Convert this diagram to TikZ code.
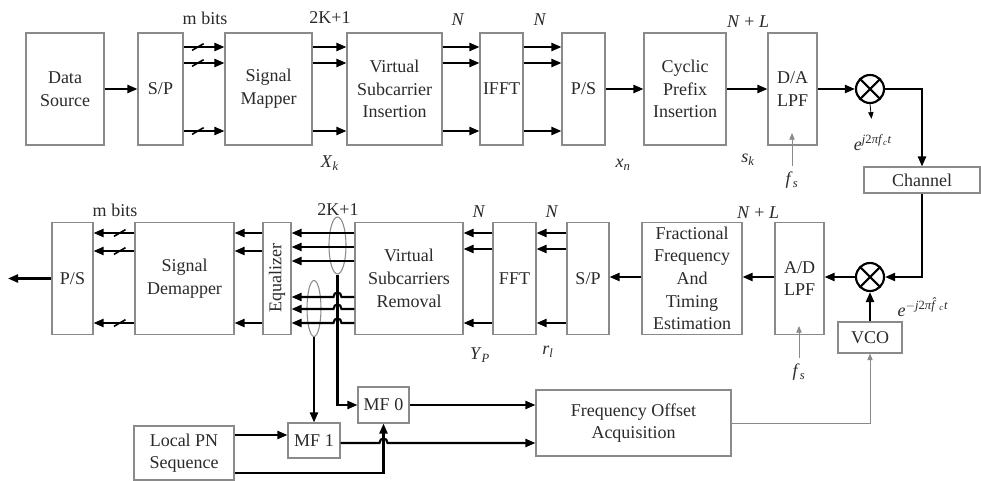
\documentclass[tikz,border=0pt]{standalone}
\usepackage{fontspec}
\setmainfont{Liberation Serif}
\usetikzlibrary{positioning, arrows.meta, calc, shapes.geometric}
\definecolor{boxline}{HTML}{8A8A8A}
\definecolor{txtink}{HTML}{2A2A2A}

\begin{document}
\begin{tikzpicture}[
  x=0.75pt, y=-0.75pt,
  line join=miter,
  >={Triangle[length=7.5pt,width=6pt]},
  box/.style = {draw=boxline, line width=0.8pt, fill=white, inner sep=2pt,
                minimum height=84pt, anchor=center, align=center, text=txtink,
                font=\fontsize{13.5}{17}\selectfont},
  bus/.style = {line width=1.6pt, black},
  thinarr/.style = {line width=0.6pt, draw=boxline, -{Triangle[length=5pt,width=4pt]}},
  slash/.style = {draw, line width=1.2pt, inner sep=0pt, minimum width=0pt,
                  minimum height=10pt, rotate=-60},
  grp/.style = {ellipse, draw=boxline, line width=0.8pt, inner sep=0pt},
  mixer/.style = {circle, draw, line width=1.6pt, minimum size=21pt, inner sep=0pt,
                  path picture={\draw[line width=1.6pt]
                    (path picture bounding box.north west) -- (path picture bounding box.south east)
                    (path picture bounding box.north east) -- (path picture bounding box.south west);}},
  lbl/.style = {font=\fontsize{13.5}{15}\selectfont, text=txtink, inner sep=1pt}
]
\useasboundingbox (0,0) rectangle (981,481);

% rows
\coordinate (t1) at (0,47);  \coordinate (t2) at (0,63);  \coordinate (t3) at (0,131);
\coordinate (r1) at (0,233); \coordinate (r2) at (0,249); \coordinate (r3) at (0,323);
\coordinate (q1) at (0,233); \coordinate (q2) at (0,247); \coordinate (q3) at (0,261);
\coordinate (q4) at (0,297); \coordinate (q5) at (0,309); \coordinate (q6) at (0,323);
\coordinate (d1) at (0,233); \coordinate (d2) at (0,251); \coordinate (d3) at (0,323);
\coordinate (rm) at (0,277);
\coordinate (pa) at (0,435); \coordinate (pb) at (0,473); \coordinate (pc) at (0,443);

% transmitter
\node[box, minimum width=58.5pt]  (src)  at (65,89)    {Data\\Source};
\node[box, minimum width=33.75pt] (sp)   at (160.5,89) {S/P};
\node[box, minimum width=65.25pt] (map)  at (268.5,89) {Signal\\Mapper};
\node[box, minimum width=71.25pt] (vsi)  at (394.5,89) {Virtual\\Subcarrier\\Insertion};
\node[box, minimum width=32.25pt] (ifft) at (501.5,89) {IFFT};
\node[box, minimum width=32.25pt] (ps)   at (583.5,89) {P/S};
\node[box, minimum width=61.5pt]  (cp)   at (685,89)   {Cyclic\\Prefix\\Insertion};
\node[box, minimum width=36.75pt] (da)   at (792.5,89) {D/A\\LPF};
\node[mixer] (mixa) at (870,89) {};
\node[box, minimum width=87pt, minimum height=19.5pt] (chan) at (922,180) {Channel};

% receiver
\node[mixer] (mixb) at (870,277) {};
\node[box, minimum width=48pt, minimum height=23.25pt] (vco) at (870,337.5) {VCO};
\node[box, minimum width=36.75pt] (ad)    at (799.5,278.5) {A/D\\LPF};
\node[box, minimum width=75pt]    (frac)  at (692,278.5)   {Fractional\\Frequency\\And\\Timing\\Estimation};
\node[box, minimum width=31.5pt]  (spr)   at (588,278.5)   {S/P};
\node[box, minimum width=32.25pt] (fft)   at (514.5,278.5) {FFT};
\node[box, minimum width=81pt]    (vsr)   at (409,278.5)   {Virtual\\Subcarriers\\Removal};
\node[box, minimum width=21pt]    (eq)    at (277,278.5)   {\rotatebox{90}{Equalizer}};
\node[box, minimum width=74.25pt] (demap) at (184.5,278.5) {Signal\\Demapper};
\node[box, minimum width=30.75pt] (psr)   at (72.5,278.5)  {P/S};
\coordinate (out) at (8,278.5);

% acquisition
\node[box, minimum width=38.25pt, minimum height=27pt]    (mfz) at (383.5,405) {MF 0};
\node[box, minimum width=39pt, minimum height=26.25pt]    (mfo) at (314,440.5) {MF 1};
\node[box, minimum width=75pt, minimum height=40.5pt]     (pn)  at (184,453)   {Local PN\\Sequence};
\node[box, minimum width=146.25pt, minimum height=49.5pt] (foa) at (633.5,423) {Frequency Offset\\Acquisition};
\node[grp, minimum width=12.75pt, minimum height=42.75pt] (gA) at (337.5,245.5) {};
\node[grp, minimum width=10.5pt, minimum height=42pt]     (gB) at (314,308.5) {};

% labels
\node[lbl] (mbt)  at (205,18)  {m bits};
\node[lbl] (kt)   at (330,18)  {2K+1};
\node[lbl] (nt1)  at (458,20)  {\textit{N}};
\node[lbl] (nt2)  at (540,20)  {\textit{N}};
\node[lbl] (nlt)  at (748,22)  {\textit{N} + \textit{L}};
\node[lbl] (xk)   at (330,163) {\textit{X}\textsubscript{\textit{k}}};
\node[lbl] (xn)   at (623,165) {\textit{x}\textsubscript{\textit{n}}};
\node[lbl] (sk)   at (748,160) {\textit{s}\textsubscript{\textit{k}}};
\node[lbl] (fsa)  at (792,180) {\textit{f}\textsubscript{\textit{s}}};
\node[lbl] (ela)  at (873,143) {\textit{e}\textsuperscript{\textit{j}2\textit{πf}\textsubscript{\textit{c}}\textit{t}}};
\node[lbl] (elb)  at (923,307) {\textit{e}\textsuperscript{$-$\textit{j}2\textit{π\^f}\textsubscript{\textit{c}}\textit{t}}};
\node[lbl] (mbr)  at (115,210) {m bits};
\node[lbl] (kr)   at (338,210) {2K+1};
\node[lbl] (nr1)  at (479,212) {\textit{N}};
\node[lbl] (nr2)  at (552,212) {\textit{N}};
\node[lbl] (nlr)  at (758,213) {\textit{N} + \textit{L}};
\node[lbl] (yp)   at (480,355) {\textit{Y}\textsubscript{\textit{P}}};
\node[lbl] (rl)   at (548,352) {\textit{r}\textsubscript{\textit{l}}};
\node[lbl] (fsb)  at (799,372) {\textit{f}\textsubscript{\textit{s}}};
\coordinate (fsatip) at (792,133);
\coordinate (fsbtip) at (799,326);

% transmit chain
\draw[bus,->] (src.east) -- (sp.west);
\draw[bus,->] (sp.east |- t1) -- node[slash, pos=0.35] {} (map.west |- t1);
\draw[bus,->] (sp.east |- t2) -- node[slash, pos=0.35] {} (map.west |- t2);
\draw[bus,->] (sp.east |- t3) -- node[slash, pos=0.35] {} (map.west |- t3);
\draw[bus,->] (map.east |- t1) -- (vsi.west |- t1);
\draw[bus,->] (map.east |- t2) -- (vsi.west |- t2);
\draw[bus,->] (map.east |- t3) -- (vsi.west |- t3);
\draw[bus,->] (vsi.east |- t1) -- (ifft.west |- t1);
\draw[bus,->] (vsi.east |- t2) -- (ifft.west |- t2);
\draw[bus,->] (vsi.east |- t3) -- (ifft.west |- t3);
\draw[bus,->] (ifft.east |- t1) -- (ps.west |- t1);
\draw[bus,->] (ifft.east |- t2) -- (ps.west |- t2);
\draw[bus,->] (ifft.east |- t3) -- (ps.west |- t3);
\draw[bus,->] (ps.east) -- (cp.west);
\draw[bus,->] (cp.east) -- (da.west);
\draw[bus,->] (da.east) -- (mixa.west);
\draw[bus,->] (mixa.east) -| (chan.north);
\draw[thinarr, draw=black, shorten >=11pt] (mixa.south) -- (ela.north);
\draw[thinarr, shorten <=3pt] (fsa.north) -- (fsatip);

% receive chain
\draw[bus,->] (chan.south) |- (mixb.east);
\draw[bus,->] (vco.north) -- (mixb.south);
\draw[bus,->] (mixb.west) -- (ad.east |- rm);
\draw[bus,->] (ad.west |- rm) -- (frac.east |- rm);
\draw[bus,->] (frac.west |- rm) -- (spr.east |- rm);
\draw[bus,->] (spr.west |- r1) -- (fft.east |- r1);
\draw[bus,->] (spr.west |- r2) -- (fft.east |- r2);
\draw[bus,->] (spr.west |- r3) -- (fft.east |- r3);
\draw[bus,->] (fft.west |- r1) -- (vsr.east |- r1);
\draw[bus,->] (fft.west |- r2) -- (vsr.east |- r2);
\draw[bus,->] (fft.west |- r3) -- (vsr.east |- r3);
\draw[bus,->] (vsr.west |- q1) -- (eq.east |- q1);
\draw[bus,->] (vsr.west |- q2) -- (eq.east |- q2);
\draw[bus,->] (vsr.west |- q3) -- (eq.east |- q3);
\draw[bus,->] (vsr.west |- q4) -- ($(gA.south |- q4)+(4,0)$)
  .. controls +(0,-6) and +(0,-6) .. ($(gA.south |- q4)+(-4,0)$) -- (eq.east |- q4);
\draw[bus,->] (vsr.west |- q5) -- ($(gA.south |- q5)+(4,0)$)
  .. controls +(0,-6) and +(0,-6) .. ($(gA.south |- q5)+(-4,0)$) -- (eq.east |- q5);
\draw[bus,->] (vsr.west |- q6) -- ($(gA.south |- q6)+(4,0)$)
  .. controls +(0,-6) and +(0,-6) .. ($(gA.south |- q6)+(-4,0)$) -- (eq.east |- q6);
\draw[bus,->] (eq.west |- d1) -- (demap.east |- d1);
\draw[bus,->] (eq.west |- d2) -- (demap.east |- d2);
\draw[bus,->] (eq.west |- d3) -- (demap.east |- d3);
\draw[bus,->] (demap.west |- d1) -- node[slash, pos=0.36] {} (psr.east |- d1);
\draw[bus,->] (demap.west |- d2) -- node[slash, pos=0.36] {} (psr.east |- d2);
\draw[bus,->] (demap.west |- d3) -- node[slash, pos=0.36] {} (psr.east |- d3);
\draw[bus,->] (psr.west) -- (out);
\draw[thinarr, shorten <=3pt] (fsb.north) -- (fsbtip);

% acquisition paths
\draw[bus,->] (gA.south) |- (mfz.west);
\draw[bus,->] (gB.south) -- (mfo.north);
\draw[bus,->] (pn.east |- pa) -- (mfo.west |- pa);
\draw[bus,->] (pn.east |- pb) -| (mfz.south);
\draw[bus,->] (mfo.east |- pc) -- ($(mfz.south |- pc)+(-4,0)$)
  .. controls +(0,-6) and +(0,-6) .. ($(mfz.south |- pc)+(4,0)$) -- (foa.west |- pc);
\draw[bus,->] (mfz.east) -- (foa.west |- mfz.east);
\draw[thinarr] (foa.east) -| (vco.south);

\end{tikzpicture}
\end{document}
